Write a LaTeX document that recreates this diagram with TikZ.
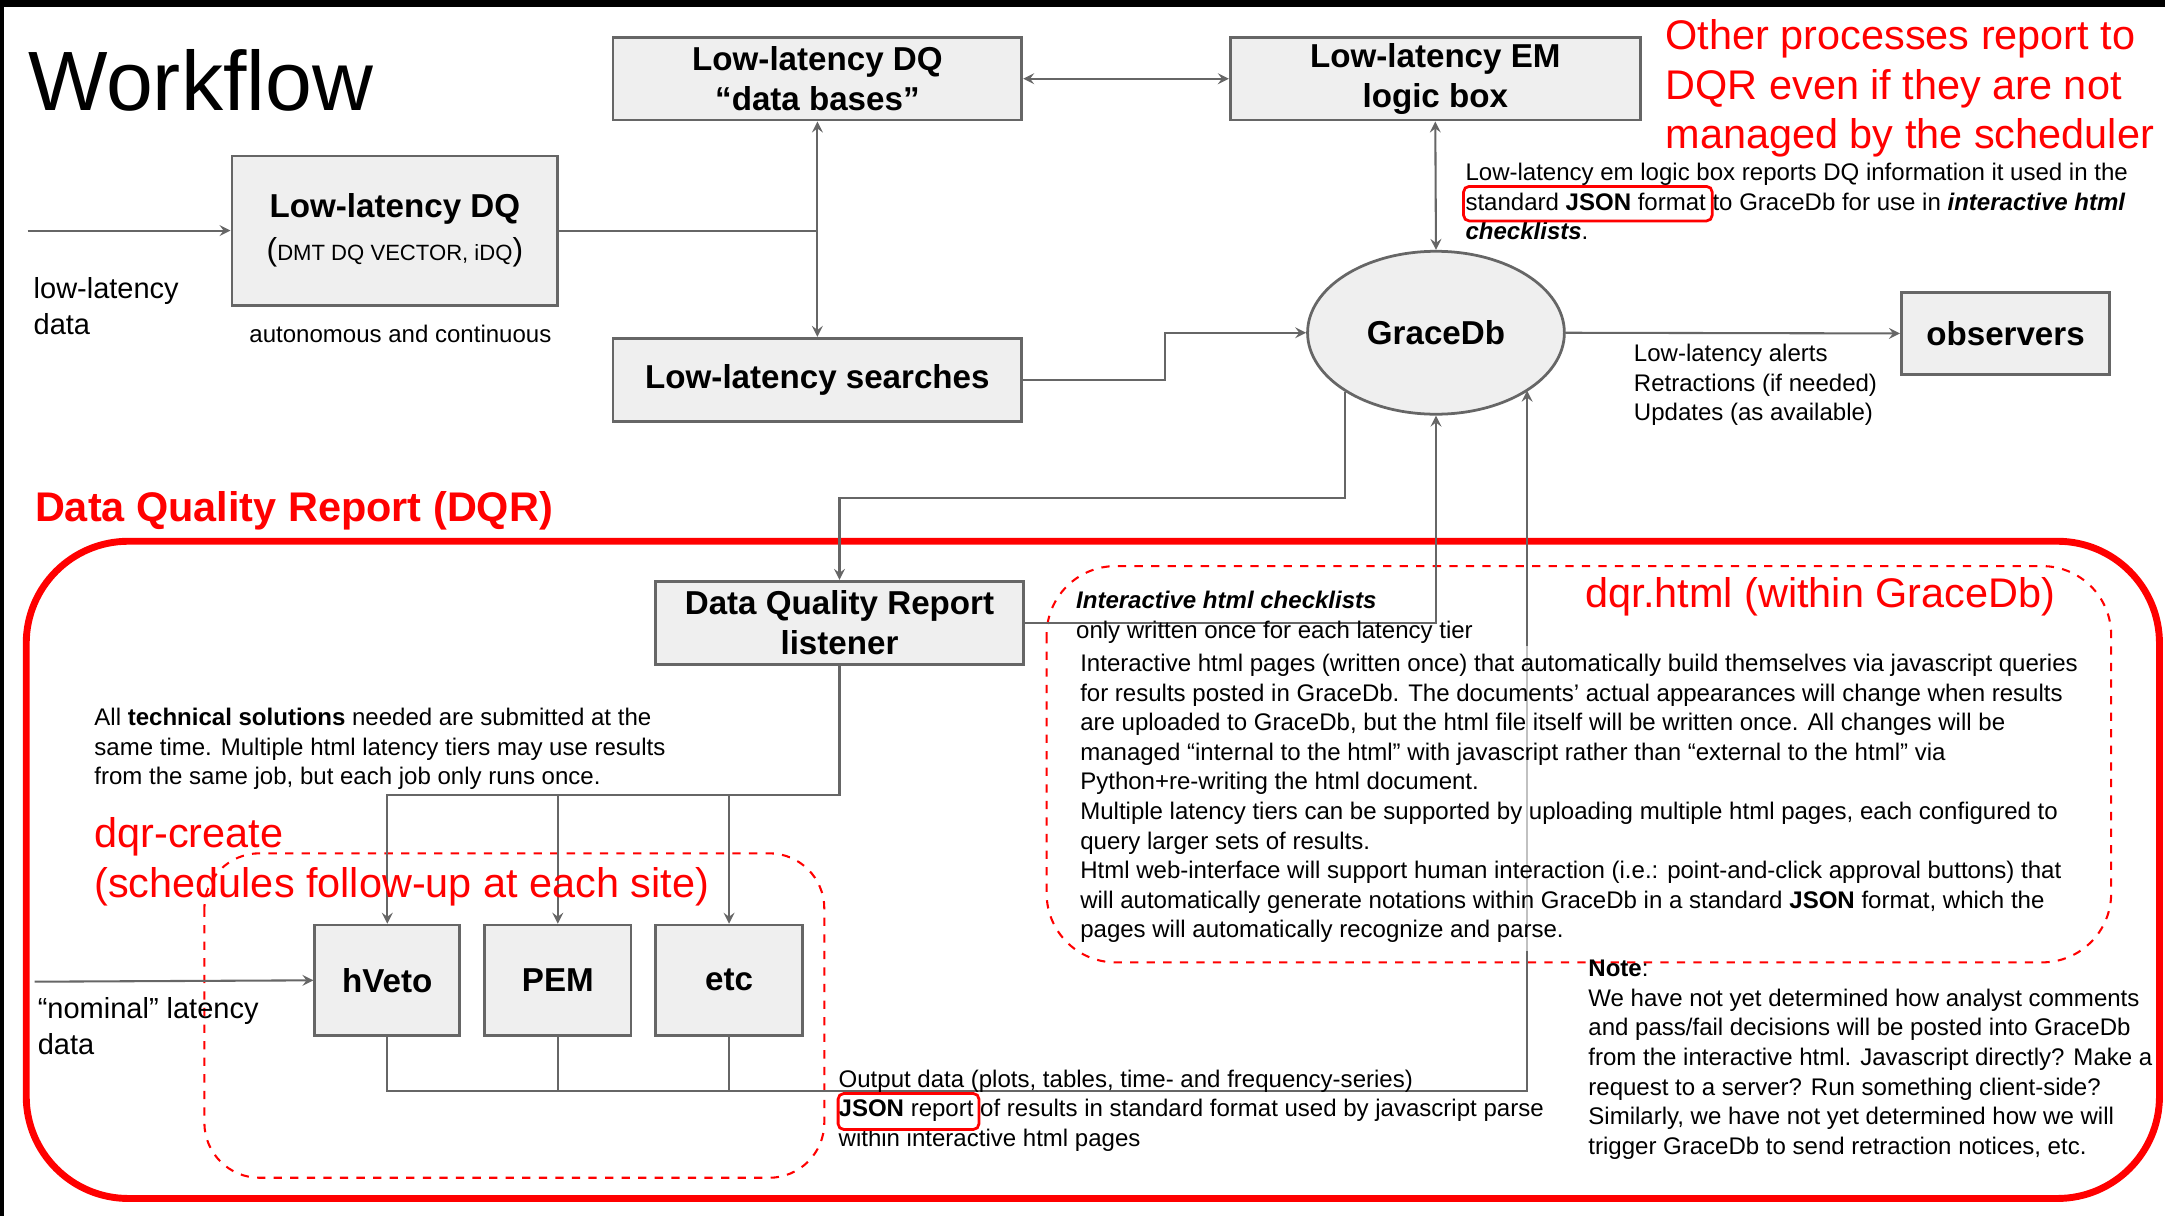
\documentclass[tikz,border=0pt]{standalone}
\usepackage{fontspec}
\setmainfont{Liberation Sans}
\usetikzlibrary{shapes.geometric}
\definecolor{boxgray}{HTML}{EFEFEF}
\definecolor{linegray}{HTML}{666666}
\definecolor{dqrred}{HTML}{FF0000}
\tikzset{
	blk/.style={draw=linegray, line width=1pt, fill=boxgray, font=\fontsize{12}{14.5}\selectfont\bfseries, align=center, inner sep=0pt},
	wire/.style={draw=linegray, line width=0.75pt},
	txt/.style={font=\fontsize{8.7}{10.7}\selectfont, align=left, inner sep=0pt, anchor=base west},
	redtxt/.style={text=dqrred, font=\fontsize{15}{17.9}\selectfont, align=left, inner sep=0pt, anchor=base west},
	jsonbox/.style={draw=dqrred, line width=1pt, rounded corners=2pt},
}
\begin{document}
\begin{tikzpicture}[x=0.5pt, y=-0.5pt]
	\useasboundingbox (0,0) rectangle (1568,881);
	\fill[black] (0,0) rectangle (1568,5);
	\fill[black] (0,0) rectangle (3,881);

	% upper workflow (text nodes sit on the baseline of their last line)
	\node[font=\fontsize{30.5}{36}\selectfont, anchor=base west, inner sep=0pt] (title) at (20,80) {Workflow};
	\node[blk, minimum width=148pt, minimum height=30pt] (dqbase) at (592,57) {Low-latency DQ\\“data bases”};
	\node[blk, minimum width=148.5pt, minimum height=30pt] (embox) at (1039.5,57) {Low-latency EM\\logic box};
	\node[blk, minimum width=118pt, minimum height=54pt] (lldq) at (286,167)
		{Low-latency DQ\\[1pt]{\mdseries\fontsize{11.5}{14.5}\selectfont(\fontsize{8}{10}\selectfont DMT DQ VECTOR, iDQ\fontsize{11.5}{14.5}\selectfont)}};
	\node[blk, minimum width=148pt, minimum height=30pt] (search) at (592,275) {Low-latency searches};
	\node[blk, ellipse, minimum width=93pt, minimum height=59pt] (gracedb) at (1040,241) {GraceDb};
	\node[blk, minimum width=75.5pt, minimum height=29.5pt] (observers) at (1452.5,241.5) {observers};

	\node[txt, font=\fontsize{10.5}{13}\selectfont] (lowdata) at (24,242) {low-latency\\data};
	\node[txt, anchor=base] (autonomous) at (290,248) {autonomous and continuous};
	\node[txt] (emnote) at (1061,173.8) {Low-latency em logic box reports DQ information it used in the\\
		standard \textbf{JSON} format to GraceDb for use in \textbf{\textit{interactive html}}\\
		\textbf{\textit{checklists}}.};
	\node[txt] (alerts) at (1183,304.8) {Low-latency alerts\\Retractions (if needed)\\Updates (as available)};
	\node[redtxt] (others) at (1206,107.6) {Other processes report to\\DQR even if they are not\\managed by the scheduler};
	\draw[jsonbox] (1060,135) rectangle (1240,160);

	\coordinate (in1) at (20,167);
	\coordinate (j1) at (592,167);
	\draw[wire, -stealth] (in1) -- (lldq.west);
	\draw[wire] (lldq.east) -- (j1);
	\draw[wire, -stealth] (j1) -- (dqbase.south);
	\draw[wire, -stealth] (j1) -- (search.north);
	\draw[wire, stealth-stealth] (dqbase.east) -- (embox.west);
	\draw[wire, stealth-stealth] (embox.south) -- (gracedb.north);
	\draw[wire, -stealth] (search.east) -- (844,275) |- (gracedb.west);
	\draw[wire, -stealth] (gracedb.east) -- (observers.west);

	% data quality report
	\node[redtxt, font=\fontsize{15}{18}\selectfont\bfseries] (dqrhead) at (25,378) {Data Quality Report (DQR)};
	\draw[dqrred, line width=2.5pt, rounded corners=37pt] (19,392) rectangle (1564,868);
	\draw[dqrred, line width=0.75pt, dashed, rounded corners=20pt] (148,618) rectangle (597,853);
	\draw[dqrred, line width=0.75pt, dashed, rounded corners=25pt] (758,410) rectangle (1529,697);

	\node[blk, minimum width=133pt, minimum height=30pt] (listener) at (608,451) {Data Quality Report\\listener};
	\node[blk, minimum width=52.5pt, minimum height=40pt] (hveto) at (280.5,710) {hVeto};
	\node[blk, minimum width=53pt, minimum height=40pt] (pem) at (404,710) {PEM};
	\node[blk, minimum width=53pt, minimum height=40pt] (etc) at (528,710) {etc};

	\coordinate (bend) at (608,361);
	\coordinate (split) at (608,576);
	\coordinate (merge) at (1106,790);
	\coordinate (in2) at (25,711);
	\draw[wire, -stealth] (gracedb.213) |- (bend) -- (listener.north);
	\draw[wire, -stealth] (listener.east) -| (gracedb.south);
	\draw[wire, -stealth] (listener.south) -- (split) -| (hveto.north);
	\draw[wire, -stealth] (pem.north |- split) -- (pem.north);
	\draw[wire, -stealth] (etc.north |- split) -- (etc.north);
	\draw[wire, -stealth] (hveto.south) |- (merge) -- (merge |- gracedb.328);
	\draw[wire] (pem.south) -- (pem.south |- merge);
	\draw[wire] (etc.south) -- (etc.south |- merge);
	\draw[wire, -stealth] (in2) -- (hveto.west);

	\node[txt, font=\fontsize{10.5}{13}\selectfont] (nominal) at (27,763.5) {“nominal” latency\\data};
	\node[txt] (technical) at (68,568.3) {All \textbf{technical solutions} needed are submitted at the\\
		same time. Multiple html latency tiers may use results\\
		from the same job, but each job only runs once.};
	\node[redtxt] (create) at (68,649.8) {dqr-create\\(schedules follow-up at each site)};
	\node[redtxt] (dqrhtml) at (1148,440) {dqr.html (within GraceDb)};
	\node[txt, font=\fontsize{8.7}{11}\selectfont] (checklists) at (779,462.5) {\textbf{\textit{Interactive html checklists}}\\only written once for each latency tier};
	\node[txt, fill=white, fill opacity=0.6, text opacity=1, inner ysep=3pt] (pages) at (782,679.1)
		{Interactive html pages (written once) that automatically build themselves via javascript queries\\
		for results posted in GraceDb. The documents’ actual appearances will change when results\\
		are uploaded to GraceDb, but the html file itself will be written once. All changes will be\\
		managed “internal to the html” with javascript rather than “external to the html” via\\
		Python+re-writing the html document.\\
		Multiple latency tiers can be supported by uploading multiple html pages, each configured to\\
		query larger sets of results.\\
		Html web-interface will support human interaction (i.e.: point-and-click approval buttons) that\\
		will automatically generate notations within GraceDb in a standard \textbf{JSON} format, which the\\
		pages will automatically recognize and parse.};
	\node[txt] (note) at (1150,835.9) {\textbf{Note}:\\
		We have not yet determined how analyst comments\\
		and pass/fail decisions will be posted into GraceDb\\
		from the interactive html. Javascript directly? Make a\\
		request to a server? Run something client-side?\\
		Similarly, we have not yet determined how we will\\
		trigger GraceDb to send retraction notices, etc.};
	\node[txt] (output) at (607,830.3) {Output data (plots, tables, time- and frequency-series)\\
		\textbf{JSON} report of results in standard format used by javascript parse\\
		within interactive html pages};
	\draw[jsonbox] (607,792) rectangle (709,818);
\end{tikzpicture}
\end{document}
